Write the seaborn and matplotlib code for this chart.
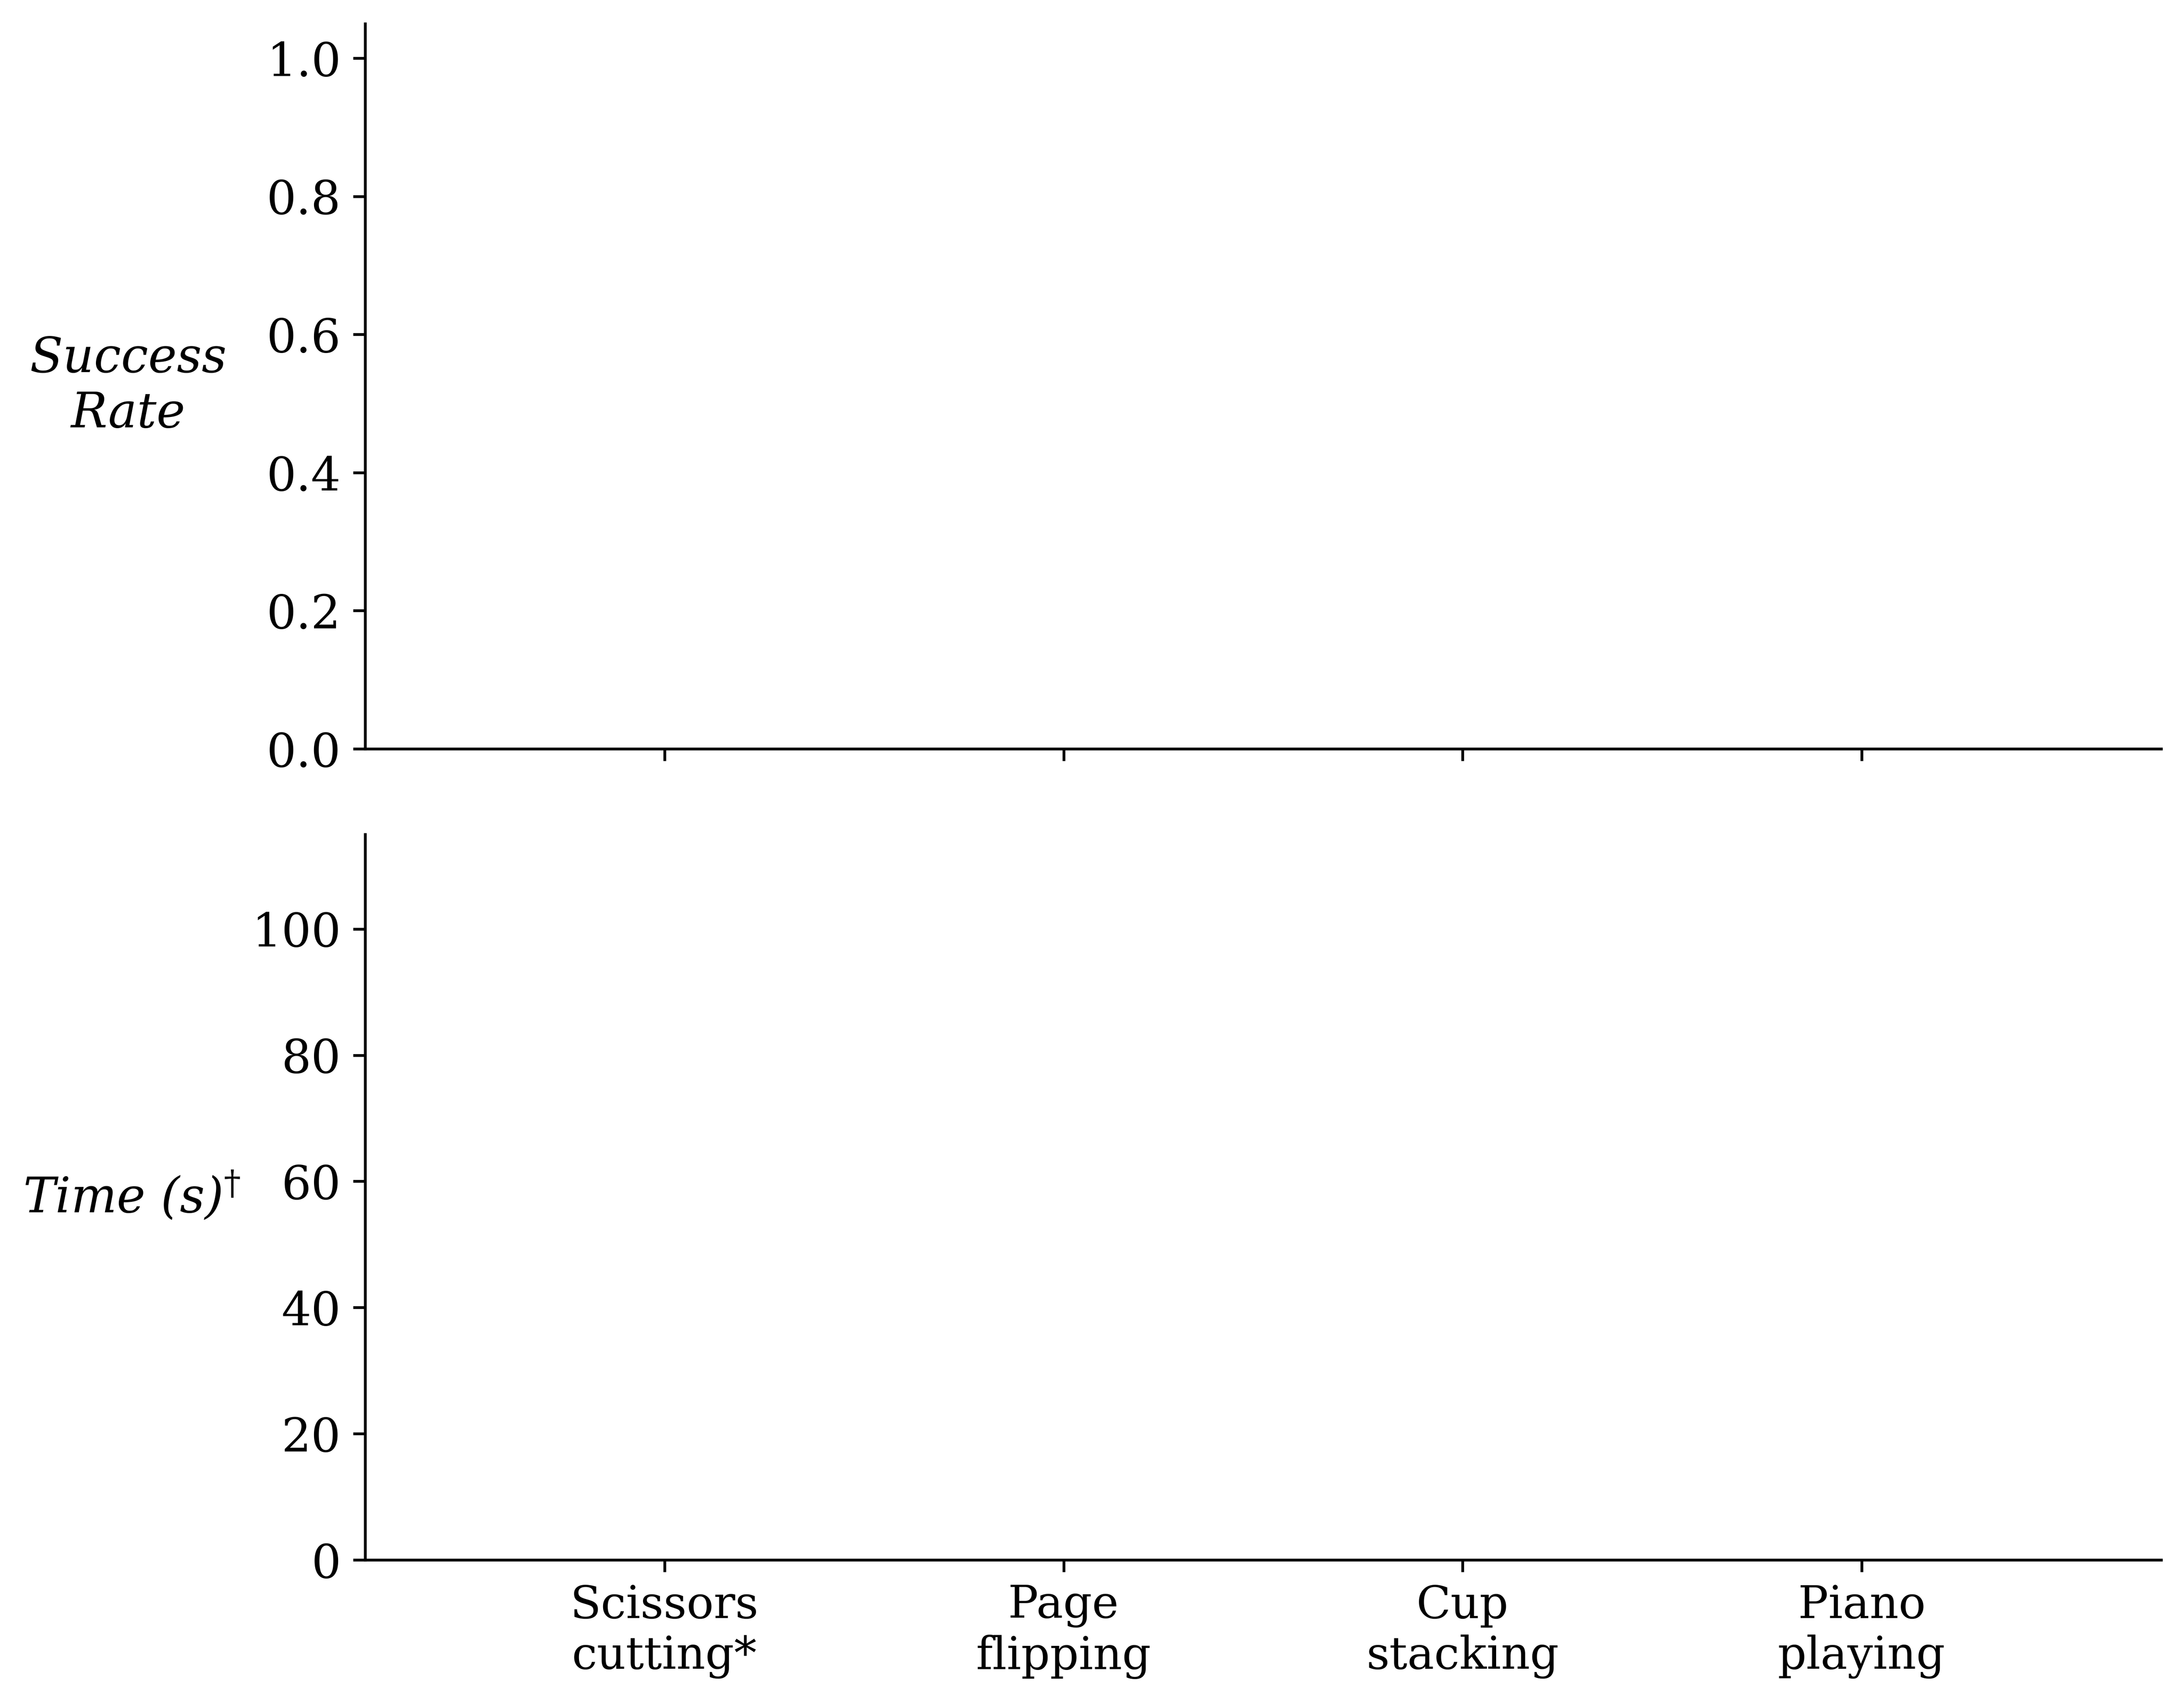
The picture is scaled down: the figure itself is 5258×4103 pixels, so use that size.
import pandas as pd
import matplotlib
matplotlib.use("Agg")
import matplotlib.pyplot as plt
import seaborn as sns

# -------------------------- data --------------------------
TASKS = ["Scissors\ncutting*", "Page\nflipping", "Cup\nstacking", "Piano\nplaying"]
SUCCESS_RATE = [0.0, 0.0, 0.0, 0.0]   # nothing visible in the figure
TIME_S = [0.0, 0.0, 0.0, 0.0]
# ----------------------------------------------------------

sns.set_style("ticks", rc={
    "axes.edgecolor": "black",
    "axes.labelcolor": "black",
    "text.color": "black",
    "xtick.color": "black",
    "ytick.color": "black",
})
plt.rcParams["font.family"] = ["DejaVu Serif", "DejaVu Sans"]
plt.rcParams["mathtext.fontset"] = "dejavuserif"
plt.rcParams["font.size"] = 14
plt.rcParams["axes.linewidth"] = 0.8
for ax_name in ("xtick", "ytick"):
    plt.rcParams[f"{ax_name}.major.size"] = 3.5
    plt.rcParams[f"{ax_name}.major.width"] = 0.8
plt.rcParams["xtick.labelsize"] = 13
plt.rcParams["ytick.labelsize"] = 13.5

df = pd.DataFrame({"task": TASKS, "success": SUCCESS_RATE, "time": TIME_S})

fig = plt.figure(figsize=(5258 / 600, 4103 / 600), dpi=600)
ax_top = fig.add_axes([0.1672, 0.5606, 0.8223, 0.4255])
ax_bot = fig.add_axes([0.1672, 0.0846, 0.8223, 0.4258], sharex=ax_top)

sns.barplot(data=df, x="task", y="success", order=TASKS, errorbar=None,
            linewidth=0, ax=ax_top)
sns.barplot(data=df, x="task", y="time", order=TASKS, errorbar=None,
            linewidth=0, ax=ax_bot)

ax_top.set_ylim(0, 1.05)
ax_bot.set_ylim(0, 115)
ax_bot.set_xlim(-0.75, 3.75)

ax_top.set_xlabel("")
ax_bot.set_xlabel("")
ax_top.tick_params(axis="x", labelbottom=False)

# y labels: horizontal, italic
ax_top.set_ylabel("Success\nRate", rotation=0, style="italic",
                  ha="center", va="center", fontsize=14)
ax_top.yaxis.set_label_coords(-0.132, 0.5)
ax_bot.set_ylabel("Time (s)$^{\\dagger}$", rotation=0, style="italic",
                  ha="center", va="center", fontsize=14)
ax_bot.yaxis.set_label_coords(-0.130, 0.5)

sns.despine(fig=fig)

fig.savefig("out.png", dpi=600)
